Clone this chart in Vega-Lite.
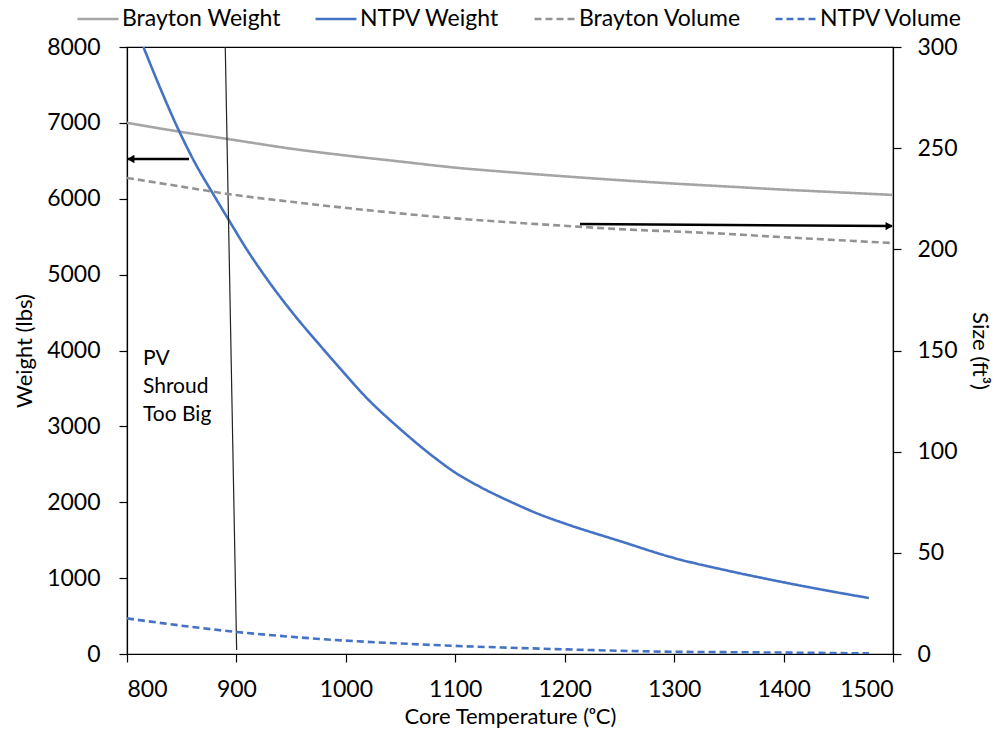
{
  "$schema": "https://vega.github.io/schema/vega-lite/v6.json",
  "width": 766,
  "height": 607,
  "autosize": {"type": "none"},
  "padding": {"left": 127, "top": 47, "right": 104, "bottom": 75},
  "background": "white",
  "config": {
    "font": "Lato",
    "view": {"stroke": "black", "strokeWidth": 1.2},
    "axis": {
      "grid": false,
      "domainColor": "black",
      "domainWidth": 1.2,
      "tickColor": "black",
      "tickWidth": 1.2,
      "tickSize": 8,
      "labelColor": "black",
      "titleColor": "black",
      "labelFont": "Lato",
      "titleFont": "Lato",
      "labelFontSize": 23,
      "titleFontSize": 22,
      "titleFontWeight": "normal",
      "labelPadding": 14,
      "format": "d"
    },
    "legend": {"labelFont": "Lato"}
  },
  "datasets": {
    "weights": [
      {"series": "Brayton Weight", "T": 800, "w": 7000},
      {"series": "Brayton Weight", "T": 850, "w": 6880},
      {"series": "Brayton Weight", "T": 900, "w": 6770},
      {"series": "Brayton Weight", "T": 950, "w": 6660},
      {"series": "Brayton Weight", "T": 1000, "w": 6570},
      {"series": "Brayton Weight", "T": 1050, "w": 6490},
      {"series": "Brayton Weight", "T": 1100, "w": 6410},
      {"series": "Brayton Weight", "T": 1150, "w": 6350},
      {"series": "Brayton Weight", "T": 1200, "w": 6295},
      {"series": "Brayton Weight", "T": 1250, "w": 6245},
      {"series": "Brayton Weight", "T": 1300, "w": 6200},
      {"series": "Brayton Weight", "T": 1350, "w": 6160},
      {"series": "Brayton Weight", "T": 1400, "w": 6120},
      {"series": "Brayton Weight", "T": 1450, "w": 6085},
      {"series": "Brayton Weight", "T": 1500, "w": 6050},
      {"series": "NTPV Weight", "T": 815, "w": 8000},
      {"series": "NTPV Weight", "T": 830, "w": 7470},
      {"series": "NTPV Weight", "T": 848, "w": 6880},
      {"series": "NTPV Weight", "T": 863, "w": 6450},
      {"series": "NTPV Weight", "T": 878, "w": 6080},
      {"series": "NTPV Weight", "T": 893, "w": 5720},
      {"series": "NTPV Weight", "T": 910, "w": 5320},
      {"series": "NTPV Weight", "T": 930, "w": 4900},
      {"series": "NTPV Weight", "T": 950, "w": 4520},
      {"series": "NTPV Weight", "T": 975, "w": 4090},
      {"series": "NTPV Weight", "T": 995, "w": 3760},
      {"series": "NTPV Weight", "T": 1018, "w": 3390},
      {"series": "NTPV Weight", "T": 1050, "w": 2960},
      {"series": "NTPV Weight", "T": 1080, "w": 2600},
      {"series": "NTPV Weight", "T": 1100, "w": 2390},
      {"series": "NTPV Weight", "T": 1123, "w": 2200},
      {"series": "NTPV Weight", "T": 1150, "w": 2010},
      {"series": "NTPV Weight", "T": 1177, "w": 1840},
      {"series": "NTPV Weight", "T": 1200, "w": 1720},
      {"series": "NTPV Weight", "T": 1250, "w": 1490},
      {"series": "NTPV Weight", "T": 1300, "w": 1265},
      {"series": "NTPV Weight", "T": 1350, "w": 1095},
      {"series": "NTPV Weight", "T": 1400, "w": 945},
      {"series": "NTPV Weight", "T": 1440, "w": 835},
      {"series": "NTPV Weight", "T": 1478, "w": 738}
    ],
    "volumes": [
      {"series": "Brayton Volume", "T": 800, "v": 235.3},
      {"series": "Brayton Volume", "T": 850, "v": 231},
      {"series": "Brayton Volume", "T": 893, "v": 227.3},
      {"series": "Brayton Volume", "T": 950, "v": 223.5},
      {"series": "Brayton Volume", "T": 1019, "v": 219.4},
      {"series": "Brayton Volume", "T": 1100, "v": 215.3},
      {"series": "Brayton Volume", "T": 1189, "v": 212},
      {"series": "Brayton Volume", "T": 1250, "v": 210},
      {"series": "Brayton Volume", "T": 1339, "v": 207.9},
      {"series": "Brayton Volume", "T": 1400, "v": 206},
      {"series": "Brayton Volume", "T": 1500, "v": 203.1},
      {"series": "NTPV Volume", "T": 800, "v": 17.6},
      {"series": "NTPV Volume", "T": 850, "v": 14},
      {"series": "NTPV Volume", "T": 900, "v": 10.9},
      {"series": "NTPV Volume", "T": 950, "v": 8.5},
      {"series": "NTPV Volume", "T": 1000, "v": 6.6},
      {"series": "NTPV Volume", "T": 1050, "v": 5.2},
      {"series": "NTPV Volume", "T": 1100, "v": 4.0},
      {"series": "NTPV Volume", "T": 1150, "v": 3.1},
      {"series": "NTPV Volume", "T": 1200, "v": 2.3},
      {"series": "NTPV Volume", "T": 1250, "v": 1.6},
      {"series": "NTPV Volume", "T": 1300, "v": 1.1},
      {"series": "NTPV Volume", "T": 1350, "v": 0.9},
      {"series": "NTPV Volume", "T": 1400, "v": 0.7},
      {"series": "NTPV Volume", "T": 1478, "v": 0.3}
    ],
    "leftArrow": [{"T": 856.7, "T2": 800.5, "w": 6524, "w2": 6524}],
    "leftHead": [{"T": 803.5, "w": 6524}],
    "divider": [{"T": 889.8, "T2": 900.2, "w": 8000, "w2": 53}],
    "note": [{"T": 814.6, "w": 3809, "label": "PV\nShroud\nToo Big"}],
    "rightArrow": [{"T": 1214, "T2": 1499, "v": 212.5, "v2": 211.5}],
    "rightHead": [{"T": 1496.5, "v": 211.5}]
  },
  "layer": [
    {
      "layer": [
        {
          "data": {"name": "weights"},
          "mark": {"type": "line", "strokeWidth": 2.6, "clip": true, "interpolate": "monotone"},
          "encoding": {
            "x": {
              "field": "T",
              "type": "quantitative",
              "scale": {"domain": [800, 1500], "nice": false},
              "axis": {"values": [800, 900, 1000, 1100, 1200, 1300, 1400, 1500], "title": "Core Temperature (ᵒC)", "titlePadding": 5, "labelPadding": 16}
            },
            "y": {
              "field": "w",
              "type": "quantitative",
              "scale": {"domain": [0, 8000], "nice": false},
              "axis": {"values": [0, 1000, 2000, 3000, 4000, 5000, 6000, 7000, 8000], "title": "Weight (lbs)", "titlePadding": 10, "labelPadding": 19}
            },
            "color": {
              "field": "series",
              "type": "nominal",
              "scale": {
                "domain": ["Brayton Weight", "NTPV Weight", "Brayton Volume", "NTPV Volume"],
                "range": ["#A5A5A5", "#4472C4", "#939393", "#4472C4"]
              },
              "legend": {
                "title": null,
                "orient": "none",
                "legendX": -51,
                "legendY": -50,
                "direction": "horizontal",
                "symbolType": "stroke",
                "symbolSize": 1681,
                "symbolStrokeWidth": 2.6,
                "labelFontSize": 23,
                "labelLimit": 400,
                "labelOffset": 2,
                "columnPadding": 29,
                "labelColor": "black"
              }
            },
            "strokeDash": {
              "field": "series",
              "type": "nominal",
              "scale": {
                "domain": ["Brayton Weight", "NTPV Weight", "Brayton Volume", "NTPV Volume"],
                "range": [[1, 0], [1, 0], [7, 4], [7, 4]]
              },
              "legend": {
                "title": null,
                "orient": "none",
                "legendX": -51,
                "legendY": -50,
                "direction": "horizontal",
                "symbolType": "stroke",
                "symbolSize": 1681,
                "symbolStrokeWidth": 2.6,
                "labelFontSize": 23,
                "labelLimit": 400,
                "labelOffset": 2,
                "columnPadding": 29,
                "labelColor": "black"
              }
            }
          }
        },
        {
          "data": {"name": "leftArrow"},
          "mark": {"type": "rule", "color": "black", "strokeWidth": 2.5},
          "encoding": {
            "x": {"field": "T", "type": "quantitative"},
            "x2": {"field": "T2"},
            "y": {"field": "w", "type": "quantitative"},
            "y2": {"field": "w2"}
          }
        },
        {
          "data": {"name": "leftHead"},
          "mark": {"type": "point", "shape": "triangle-left", "filled": true, "color": "black", "size": 70, "opacity": 1},
          "encoding": {
            "x": {"field": "T", "type": "quantitative"},
            "y": {"field": "w", "type": "quantitative"}
          }
        },
        {
          "data": {"name": "divider"},
          "mark": {"type": "rule", "color": "#222222", "strokeWidth": 1.2},
          "encoding": {
            "x": {"field": "T", "type": "quantitative"},
            "x2": {"field": "T2"},
            "y": {"field": "w", "type": "quantitative"},
            "y2": {"field": "w2"}
          }
        },
        {
          "data": {"name": "note"},
          "mark": {"type": "text", "align": "left", "baseline": "alphabetic", "fontSize": 21, "lineBreak": "\n", "lineHeight": 28, "color": "black", "font": "Lato"},
          "encoding": {
            "x": {"field": "T", "type": "quantitative"},
            "y": {"field": "w", "type": "quantitative"},
            "text": {"field": "label"}
          }
        }
      ]
    },
    {
      "layer": [
        {
          "data": {"name": "volumes"},
          "mark": {"type": "line", "strokeWidth": 2.6, "clip": true, "interpolate": "monotone"},
          "encoding": {
            "x": {"field": "T", "type": "quantitative"},
            "y": {
              "field": "v",
              "type": "quantitative",
              "scale": {"domain": [0, 300], "nice": false},
              "axis": {"orient": "right", "values": [0, 50, 100, 150, 200, 250, 300], "title": "Size (ft³)", "titlePadding": 10, "labelPadding": 16}
            },
            "color": {"field": "series", "type": "nominal"},
            "strokeDash": {"field": "series", "type": "nominal"}
          }
        },
        {
          "data": {"name": "rightArrow"},
          "mark": {"type": "rule", "color": "black", "strokeWidth": 2.5},
          "encoding": {
            "x": {"field": "T", "type": "quantitative"},
            "x2": {"field": "T2"},
            "y": {"field": "v", "type": "quantitative"},
            "y2": {"field": "v2"}
          }
        },
        {
          "data": {"name": "rightHead"},
          "mark": {"type": "point", "shape": "triangle-right", "filled": true, "color": "black", "size": 70, "opacity": 1},
          "encoding": {
            "x": {"field": "T", "type": "quantitative"},
            "y": {"field": "v", "type": "quantitative"}
          }
        }
      ]
    }
  ],
  "resolve": {"scale": {"y": "independent"}}
}
